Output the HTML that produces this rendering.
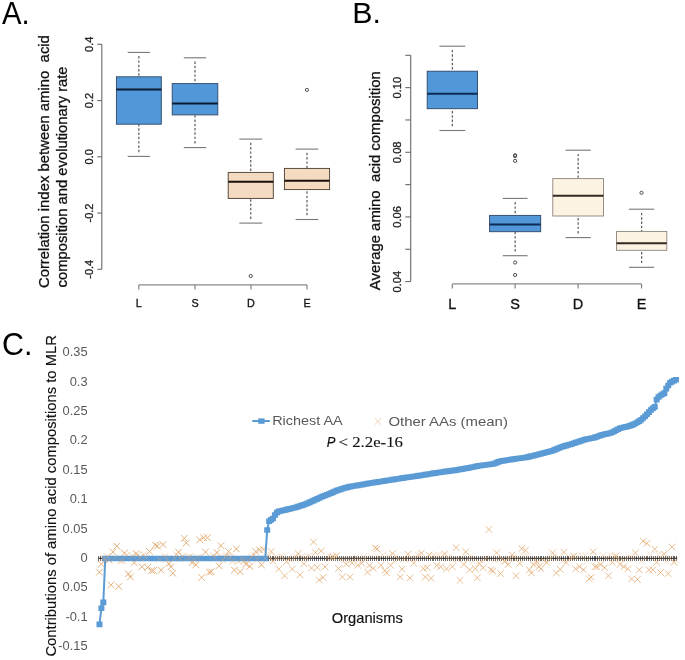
<!DOCTYPE html>
<html><head><meta charset="utf-8"><style>
html,body{margin:0;padding:0;background:#fff;}
svg{display:block;will-change:transform;}
text{font-family:"Liberation Sans",sans-serif;white-space:pre;}
</style></head><body>
<svg width="685" height="660" viewBox="0 0 685 660">
<rect width="685" height="660" fill="#fff"/>
<text x="2.10" y="23.60" text-anchor="start" font-size="31" fill="#000" stroke="#000" stroke-width="0" textLength="27.6" lengthAdjust="spacingAndGlyphs">A.</text>
<line x1="101.80" y1="44.30" x2="101.80" y2="269.30" stroke="#6a6a6a" stroke-width="1.1"/>
<line x1="97.30" y1="44.30" x2="101.80" y2="44.30" stroke="#6a6a6a" stroke-width="1.1"/>
<text transform="translate(93.10,44.30) rotate(-90)" text-anchor="middle" font-size="11" fill="#222" stroke="#222" stroke-width="0.3">0.4</text>
<line x1="97.30" y1="100.55" x2="101.80" y2="100.55" stroke="#6a6a6a" stroke-width="1.1"/>
<text transform="translate(93.10,100.55) rotate(-90)" text-anchor="middle" font-size="11" fill="#222" stroke="#222" stroke-width="0.3">0.2</text>
<line x1="97.30" y1="156.80" x2="101.80" y2="156.80" stroke="#6a6a6a" stroke-width="1.1"/>
<text transform="translate(93.10,156.80) rotate(-90)" text-anchor="middle" font-size="11" fill="#222" stroke="#222" stroke-width="0.3">0.0</text>
<line x1="97.30" y1="213.05" x2="101.80" y2="213.05" stroke="#6a6a6a" stroke-width="1.1"/>
<text transform="translate(93.10,213.05) rotate(-90)" text-anchor="middle" font-size="11" fill="#222" stroke="#222" stroke-width="0.3">-0.2</text>
<line x1="97.30" y1="269.30" x2="101.80" y2="269.30" stroke="#6a6a6a" stroke-width="1.1"/>
<text transform="translate(93.10,269.30) rotate(-90)" text-anchor="middle" font-size="11" fill="#222" stroke="#222" stroke-width="0.3">-0.4</text>
<text transform="translate(49.40,288.10) rotate(-90)" text-anchor="start" font-size="14.8" fill="#111" stroke="#111" stroke-width="0.3" textLength="253.0" lengthAdjust="spacingAndGlyphs">Correlation index between amino  acid</text>
<text transform="translate(67.20,287.40) rotate(-90)" text-anchor="start" font-size="14.8" fill="#111" stroke="#111" stroke-width="0.3" textLength="221.0" lengthAdjust="spacingAndGlyphs">composition and evolutionary rate</text>
<line x1="138.80" y1="284.90" x2="307.00" y2="284.90" stroke="#8a8a8a" stroke-width="1.2"/>
<line x1="138.80" y1="284.90" x2="138.80" y2="289.60" stroke="#777" stroke-width="1.1"/>
<text x="138.80" y="306.70" text-anchor="middle" font-size="10.8" fill="#111" stroke="#111" stroke-width="0.3">L</text>
<line x1="195.00" y1="284.90" x2="195.00" y2="289.60" stroke="#777" stroke-width="1.1"/>
<text x="195.00" y="306.70" text-anchor="middle" font-size="10.8" fill="#111" stroke="#111" stroke-width="0.3">S</text>
<line x1="251.00" y1="284.90" x2="251.00" y2="289.60" stroke="#777" stroke-width="1.1"/>
<text x="251.00" y="306.70" text-anchor="middle" font-size="10.8" fill="#111" stroke="#111" stroke-width="0.3">D</text>
<line x1="307.00" y1="284.90" x2="307.00" y2="289.60" stroke="#777" stroke-width="1.1"/>
<text x="307.00" y="306.70" text-anchor="middle" font-size="10.8" fill="#111" stroke="#111" stroke-width="0.3">E</text>
<line x1="138.85" y1="56.10" x2="138.85" y2="76.80" stroke="#5a5a5a" stroke-width="1.2" stroke-dasharray="2.45 1.85"/>
<line x1="138.85" y1="152.20" x2="138.85" y2="124.20" stroke="#5a5a5a" stroke-width="1.2" stroke-dasharray="2.45 1.85"/>
<line x1="127.65" y1="52.40" x2="150.05" y2="52.40" stroke="#777" stroke-width="1.1"/>
<line x1="127.65" y1="156.40" x2="150.05" y2="156.40" stroke="#777" stroke-width="1.1"/>
<rect x="116.40" y="76.80" width="44.90" height="47.40" fill="#5298d8" stroke="#2d4566" stroke-width="0.9"/>
<line x1="116.40" y1="89.40" x2="161.30" y2="89.40" stroke="#0d1a33" stroke-width="2.0"/>
<line x1="195.00" y1="61.50" x2="195.00" y2="83.60" stroke="#5a5a5a" stroke-width="1.2" stroke-dasharray="2.45 1.85"/>
<line x1="195.00" y1="143.40" x2="195.00" y2="114.90" stroke="#5a5a5a" stroke-width="1.2" stroke-dasharray="2.45 1.85"/>
<line x1="183.80" y1="57.80" x2="206.20" y2="57.80" stroke="#777" stroke-width="1.1"/>
<line x1="183.80" y1="147.60" x2="206.20" y2="147.60" stroke="#777" stroke-width="1.1"/>
<rect x="172.20" y="83.60" width="45.60" height="31.30" fill="#5298d8" stroke="#2d4566" stroke-width="0.9"/>
<line x1="172.20" y1="103.60" x2="217.80" y2="103.60" stroke="#0d1a33" stroke-width="2.0"/>
<line x1="250.75" y1="142.80" x2="250.75" y2="172.40" stroke="#5a5a5a" stroke-width="1.2" stroke-dasharray="2.45 1.85"/>
<line x1="250.75" y1="218.90" x2="250.75" y2="198.40" stroke="#5a5a5a" stroke-width="1.2" stroke-dasharray="2.45 1.85"/>
<line x1="239.35" y1="139.10" x2="262.15" y2="139.10" stroke="#777" stroke-width="1.1"/>
<line x1="239.35" y1="223.10" x2="262.15" y2="223.10" stroke="#777" stroke-width="1.1"/>
<rect x="228.20" y="172.40" width="45.10" height="26.00" fill="#f3dac0" stroke="#4a3b30" stroke-width="0.9"/>
<line x1="228.20" y1="181.80" x2="273.30" y2="181.80" stroke="#1a1008" stroke-width="2.0"/>
<line x1="307.00" y1="152.80" x2="307.00" y2="168.40" stroke="#5a5a5a" stroke-width="1.2" stroke-dasharray="2.45 1.85"/>
<line x1="307.00" y1="215.30" x2="307.00" y2="189.60" stroke="#5a5a5a" stroke-width="1.2" stroke-dasharray="2.45 1.85"/>
<line x1="295.60" y1="149.10" x2="318.40" y2="149.10" stroke="#777" stroke-width="1.1"/>
<line x1="295.60" y1="219.50" x2="318.40" y2="219.50" stroke="#777" stroke-width="1.1"/>
<rect x="284.40" y="168.40" width="45.20" height="21.20" fill="#f3dac0" stroke="#4a3b30" stroke-width="0.9"/>
<line x1="284.40" y1="180.70" x2="329.60" y2="180.70" stroke="#1a1008" stroke-width="2.0"/>
<circle cx="306.90" cy="89.90" r="1.6" fill="none" stroke="#444" stroke-width="0.95"/>
<circle cx="250.70" cy="276.00" r="1.6" fill="none" stroke="#444" stroke-width="0.95"/>
<text x="352.20" y="23.00" text-anchor="start" font-size="30.3" fill="#000" stroke="#000" stroke-width="0">B.</text>
<line x1="410.70" y1="55.30" x2="410.70" y2="281.60" stroke="#6a6a6a" stroke-width="1.1"/>
<line x1="405.30" y1="55.30" x2="410.70" y2="55.30" stroke="#6a6a6a" stroke-width="1.1"/>
<line x1="405.30" y1="87.63" x2="410.70" y2="87.63" stroke="#6a6a6a" stroke-width="1.1"/>
<line x1="405.30" y1="119.96" x2="410.70" y2="119.96" stroke="#6a6a6a" stroke-width="1.1"/>
<line x1="405.30" y1="152.29" x2="410.70" y2="152.29" stroke="#6a6a6a" stroke-width="1.1"/>
<line x1="405.30" y1="184.61" x2="410.70" y2="184.61" stroke="#6a6a6a" stroke-width="1.1"/>
<line x1="405.30" y1="216.94" x2="410.70" y2="216.94" stroke="#6a6a6a" stroke-width="1.1"/>
<line x1="405.30" y1="249.27" x2="410.70" y2="249.27" stroke="#6a6a6a" stroke-width="1.1"/>
<line x1="405.30" y1="281.60" x2="410.70" y2="281.60" stroke="#6a6a6a" stroke-width="1.1"/>
<text transform="translate(401.30,87.63) rotate(-90)" text-anchor="middle" font-size="11.2" fill="#222" stroke="#222" stroke-width="0.3">0.10</text>
<text transform="translate(401.30,152.29) rotate(-90)" text-anchor="middle" font-size="11.2" fill="#222" stroke="#222" stroke-width="0.3">0.08</text>
<text transform="translate(401.30,216.94) rotate(-90)" text-anchor="middle" font-size="11.2" fill="#222" stroke="#222" stroke-width="0.3">0.06</text>
<text transform="translate(401.30,281.60) rotate(-90)" text-anchor="middle" font-size="11.2" fill="#222" stroke="#222" stroke-width="0.3">0.04</text>
<text transform="translate(379.90,290.20) rotate(-90)" text-anchor="start" font-size="14.8" fill="#111" stroke="#111" stroke-width="0.3" textLength="219.0" lengthAdjust="spacingAndGlyphs">Average amino  acid composition</text>
<line x1="452.30" y1="283.90" x2="641.60" y2="283.90" stroke="#8a8a8a" stroke-width="1.2"/>
<line x1="452.30" y1="283.90" x2="452.30" y2="288.50" stroke="#777" stroke-width="1.1"/>
<text x="452.30" y="309.00" text-anchor="middle" font-size="14.5" fill="#111" stroke="#111" stroke-width="0.3">L</text>
<line x1="515.10" y1="283.90" x2="515.10" y2="288.50" stroke="#777" stroke-width="1.1"/>
<text x="515.10" y="309.00" text-anchor="middle" font-size="14.5" fill="#111" stroke="#111" stroke-width="0.3">S</text>
<line x1="578.10" y1="283.90" x2="578.10" y2="288.50" stroke="#777" stroke-width="1.1"/>
<text x="578.10" y="309.00" text-anchor="middle" font-size="14.5" fill="#111" stroke="#111" stroke-width="0.3">D</text>
<line x1="641.60" y1="283.90" x2="641.60" y2="288.50" stroke="#777" stroke-width="1.1"/>
<text x="641.60" y="309.00" text-anchor="middle" font-size="14.5" fill="#111" stroke="#111" stroke-width="0.3">E</text>
<line x1="452.35" y1="49.90" x2="452.35" y2="71.20" stroke="#5a5a5a" stroke-width="1.2" stroke-dasharray="2.45 1.85"/>
<line x1="452.35" y1="126.30" x2="452.35" y2="108.70" stroke="#5a5a5a" stroke-width="1.2" stroke-dasharray="2.45 1.85"/>
<line x1="439.45" y1="46.20" x2="465.25" y2="46.20" stroke="#777" stroke-width="1.1"/>
<line x1="439.45" y1="130.50" x2="465.25" y2="130.50" stroke="#777" stroke-width="1.1"/>
<rect x="427.20" y="71.20" width="50.30" height="37.50" fill="#5298d8" stroke="#2d4566" stroke-width="0.9"/>
<line x1="427.20" y1="93.70" x2="477.50" y2="93.70" stroke="#0d2a55" stroke-width="2.0"/>
<line x1="515.15" y1="202.10" x2="515.15" y2="215.40" stroke="#5a5a5a" stroke-width="1.2" stroke-dasharray="2.45 1.85"/>
<line x1="515.15" y1="251.50" x2="515.15" y2="231.70" stroke="#5a5a5a" stroke-width="1.2" stroke-dasharray="2.45 1.85"/>
<line x1="502.75" y1="198.40" x2="527.55" y2="198.40" stroke="#777" stroke-width="1.1"/>
<line x1="502.75" y1="255.70" x2="527.55" y2="255.70" stroke="#777" stroke-width="1.1"/>
<rect x="489.60" y="215.40" width="51.10" height="16.30" fill="#5298d8" stroke="#2d4566" stroke-width="0.9"/>
<line x1="489.60" y1="224.50" x2="540.70" y2="224.50" stroke="#0d2a55" stroke-width="2.0"/>
<line x1="578.15" y1="153.90" x2="578.15" y2="178.60" stroke="#5a5a5a" stroke-width="1.2" stroke-dasharray="2.45 1.85"/>
<line x1="578.15" y1="233.40" x2="578.15" y2="216.00" stroke="#5a5a5a" stroke-width="1.2" stroke-dasharray="2.45 1.85"/>
<line x1="565.55" y1="150.20" x2="590.75" y2="150.20" stroke="#777" stroke-width="1.1"/>
<line x1="565.55" y1="237.60" x2="590.75" y2="237.60" stroke="#777" stroke-width="1.1"/>
<rect x="552.80" y="178.60" width="50.70" height="37.40" fill="#fdf3e2" stroke="#8a847c" stroke-width="0.9"/>
<line x1="552.80" y1="195.80" x2="603.50" y2="195.80" stroke="#352a22" stroke-width="2.0"/>
<line x1="641.65" y1="212.90" x2="641.65" y2="231.40" stroke="#5a5a5a" stroke-width="1.2" stroke-dasharray="2.45 1.85"/>
<line x1="641.65" y1="263.10" x2="641.65" y2="250.30" stroke="#5a5a5a" stroke-width="1.2" stroke-dasharray="2.45 1.85"/>
<line x1="629.05" y1="209.20" x2="654.25" y2="209.20" stroke="#777" stroke-width="1.1"/>
<line x1="629.05" y1="267.30" x2="654.25" y2="267.30" stroke="#777" stroke-width="1.1"/>
<rect x="616.50" y="231.40" width="50.30" height="18.90" fill="#fdf3e2" stroke="#8a847c" stroke-width="0.9"/>
<line x1="616.50" y1="243.30" x2="666.80" y2="243.30" stroke="#352a22" stroke-width="2.0"/>
<circle cx="515.10" cy="155.30" r="1.6" fill="none" stroke="#444" stroke-width="0.95"/>
<circle cx="515.10" cy="156.10" r="1.6" fill="none" stroke="#444" stroke-width="0.95"/>
<circle cx="515.10" cy="160.90" r="1.6" fill="none" stroke="#444" stroke-width="0.95"/>
<circle cx="515.10" cy="262.50" r="1.6" fill="none" stroke="#444" stroke-width="0.95"/>
<circle cx="515.10" cy="275.00" r="1.6" fill="none" stroke="#444" stroke-width="0.95"/>
<circle cx="641.50" cy="192.80" r="1.6" fill="none" stroke="#444" stroke-width="0.95"/>
<text x="1.90" y="355.40" text-anchor="start" font-size="30.5" fill="#000" stroke="#000" stroke-width="0">C.</text>
<text transform="translate(55.80,656.60) rotate(-90)" text-anchor="start" font-size="14.5" fill="#111" stroke="#111" stroke-width="0.15" textLength="321.5" lengthAdjust="spacingAndGlyphs">Contributions of amino acid compositions to MLR</text>
<text x="87.60" y="356.38" text-anchor="end" font-size="12" fill="#595959" stroke="#595959" stroke-width="0" textLength="25.0" lengthAdjust="spacingAndGlyphs">0.35</text>
<text x="87.60" y="385.74" text-anchor="end" font-size="12" fill="#595959" stroke="#595959" stroke-width="0" textLength="17.9" lengthAdjust="spacingAndGlyphs">0.3</text>
<text x="87.60" y="415.10" text-anchor="end" font-size="12" fill="#595959" stroke="#595959" stroke-width="0" textLength="25.0" lengthAdjust="spacingAndGlyphs">0.25</text>
<text x="87.60" y="444.46" text-anchor="end" font-size="12" fill="#595959" stroke="#595959" stroke-width="0" textLength="17.9" lengthAdjust="spacingAndGlyphs">0.2</text>
<text x="87.60" y="473.82" text-anchor="end" font-size="12" fill="#595959" stroke="#595959" stroke-width="0" textLength="25.0" lengthAdjust="spacingAndGlyphs">0.15</text>
<text x="87.60" y="503.18" text-anchor="end" font-size="12" fill="#595959" stroke="#595959" stroke-width="0" textLength="17.9" lengthAdjust="spacingAndGlyphs">0.1</text>
<text x="87.60" y="532.54" text-anchor="end" font-size="12" fill="#595959" stroke="#595959" stroke-width="0" textLength="25.0" lengthAdjust="spacingAndGlyphs">0.05</text>
<text x="87.60" y="561.90" text-anchor="end" font-size="12" fill="#595959" stroke="#595959" stroke-width="0" textLength="7.2" lengthAdjust="spacingAndGlyphs">0</text>
<text x="87.60" y="591.26" text-anchor="end" font-size="12" fill="#595959" stroke="#595959" stroke-width="0" textLength="25.0" lengthAdjust="spacingAndGlyphs">0.05</text>
<text x="87.60" y="620.62" text-anchor="end" font-size="12" fill="#595959" stroke="#595959" stroke-width="0" textLength="22.2" lengthAdjust="spacingAndGlyphs">-0.1</text>
<text x="87.60" y="649.98" text-anchor="end" font-size="12" fill="#595959" stroke="#595959" stroke-width="0" textLength="29.3" lengthAdjust="spacingAndGlyphs">-0.15</text>
<path d="M98.50 555.8V560.8 M100.43 555.8V560.8 M102.36 555.8V560.8 M104.28 555.8V560.8 M106.21 555.8V560.8 M108.14 555.8V560.8 M110.07 555.8V560.8 M112.00 555.8V560.8 M113.92 555.8V560.8 M115.85 555.8V560.8 M117.78 555.8V560.8 M119.71 555.8V560.8 M121.64 555.8V560.8 M123.56 555.8V560.8 M125.49 555.8V560.8 M127.42 555.8V560.8 M129.35 555.8V560.8 M131.28 555.8V560.8 M133.20 555.8V560.8 M135.13 555.8V560.8 M137.06 555.8V560.8 M138.99 555.8V560.8 M140.92 555.8V560.8 M142.84 555.8V560.8 M144.77 555.8V560.8 M146.70 555.8V560.8 M148.63 555.8V560.8 M150.56 555.8V560.8 M152.48 555.8V560.8 M154.41 555.8V560.8 M156.34 555.8V560.8 M158.27 555.8V560.8 M160.20 555.8V560.8 M162.12 555.8V560.8 M164.05 555.8V560.8 M165.98 555.8V560.8 M167.91 555.8V560.8 M169.84 555.8V560.8 M171.76 555.8V560.8 M173.69 555.8V560.8 M175.62 555.8V560.8 M177.55 555.8V560.8 M179.48 555.8V560.8 M181.40 555.8V560.8 M183.33 555.8V560.8 M185.26 555.8V560.8 M187.19 555.8V560.8 M189.12 555.8V560.8 M191.04 555.8V560.8 M192.97 555.8V560.8 M194.90 555.8V560.8 M196.83 555.8V560.8 M198.76 555.8V560.8 M200.68 555.8V560.8 M202.61 555.8V560.8 M204.54 555.8V560.8 M206.47 555.8V560.8 M208.40 555.8V560.8 M210.32 555.8V560.8 M212.25 555.8V560.8 M214.18 555.8V560.8 M216.11 555.8V560.8 M218.04 555.8V560.8 M219.96 555.8V560.8 M221.89 555.8V560.8 M223.82 555.8V560.8 M225.75 555.8V560.8 M227.68 555.8V560.8 M229.60 555.8V560.8 M231.53 555.8V560.8 M233.46 555.8V560.8 M235.39 555.8V560.8 M237.32 555.8V560.8 M239.24 555.8V560.8 M241.17 555.8V560.8 M243.10 555.8V560.8 M245.03 555.8V560.8 M246.96 555.8V560.8 M248.88 555.8V560.8 M250.81 555.8V560.8 M252.74 555.8V560.8 M254.67 555.8V560.8 M256.60 555.8V560.8 M258.52 555.8V560.8 M260.45 555.8V560.8 M262.38 555.8V560.8 M264.31 555.8V560.8 M266.24 555.8V560.8 M268.16 555.8V560.8 M270.09 555.8V560.8 M272.02 555.8V560.8 M273.95 555.8V560.8 M275.88 555.8V560.8 M277.80 555.8V560.8 M279.73 555.8V560.8 M281.66 555.8V560.8 M283.59 555.8V560.8 M285.52 555.8V560.8 M287.44 555.8V560.8 M289.37 555.8V560.8 M291.30 555.8V560.8 M293.23 555.8V560.8 M295.16 555.8V560.8 M297.08 555.8V560.8 M299.01 555.8V560.8 M300.94 555.8V560.8 M302.87 555.8V560.8 M304.80 555.8V560.8 M306.72 555.8V560.8 M308.65 555.8V560.8 M310.58 555.8V560.8 M312.51 555.8V560.8 M314.44 555.8V560.8 M316.36 555.8V560.8 M318.29 555.8V560.8 M320.22 555.8V560.8 M322.15 555.8V560.8 M324.08 555.8V560.8 M326.00 555.8V560.8 M327.93 555.8V560.8 M329.86 555.8V560.8 M331.79 555.8V560.8 M333.72 555.8V560.8 M335.64 555.8V560.8 M337.57 555.8V560.8 M339.50 555.8V560.8 M341.43 555.8V560.8 M343.36 555.8V560.8 M345.28 555.8V560.8 M347.21 555.8V560.8 M349.14 555.8V560.8 M351.07 555.8V560.8 M353.00 555.8V560.8 M354.92 555.8V560.8 M356.85 555.8V560.8 M358.78 555.8V560.8 M360.71 555.8V560.8 M362.64 555.8V560.8 M364.56 555.8V560.8 M366.49 555.8V560.8 M368.42 555.8V560.8 M370.35 555.8V560.8 M372.28 555.8V560.8 M374.20 555.8V560.8 M376.13 555.8V560.8 M378.06 555.8V560.8 M379.99 555.8V560.8 M381.92 555.8V560.8 M383.84 555.8V560.8 M385.77 555.8V560.8 M387.70 555.8V560.8 M389.63 555.8V560.8 M391.56 555.8V560.8 M393.48 555.8V560.8 M395.41 555.8V560.8 M397.34 555.8V560.8 M399.27 555.8V560.8 M401.20 555.8V560.8 M403.12 555.8V560.8 M405.05 555.8V560.8 M406.98 555.8V560.8 M408.91 555.8V560.8 M410.84 555.8V560.8 M412.76 555.8V560.8 M414.69 555.8V560.8 M416.62 555.8V560.8 M418.55 555.8V560.8 M420.48 555.8V560.8 M422.40 555.8V560.8 M424.33 555.8V560.8 M426.26 555.8V560.8 M428.19 555.8V560.8 M430.12 555.8V560.8 M432.04 555.8V560.8 M433.97 555.8V560.8 M435.90 555.8V560.8 M437.83 555.8V560.8 M439.76 555.8V560.8 M441.68 555.8V560.8 M443.61 555.8V560.8 M445.54 555.8V560.8 M447.47 555.8V560.8 M449.40 555.8V560.8 M451.32 555.8V560.8 M453.25 555.8V560.8 M455.18 555.8V560.8 M457.11 555.8V560.8 M459.04 555.8V560.8 M460.96 555.8V560.8 M462.89 555.8V560.8 M464.82 555.8V560.8 M466.75 555.8V560.8 M468.68 555.8V560.8 M470.60 555.8V560.8 M472.53 555.8V560.8 M474.46 555.8V560.8 M476.39 555.8V560.8 M478.32 555.8V560.8 M480.24 555.8V560.8 M482.17 555.8V560.8 M484.10 555.8V560.8 M486.03 555.8V560.8 M487.96 555.8V560.8 M489.88 555.8V560.8 M491.81 555.8V560.8 M493.74 555.8V560.8 M495.67 555.8V560.8 M497.60 555.8V560.8 M499.52 555.8V560.8 M501.45 555.8V560.8 M503.38 555.8V560.8 M505.31 555.8V560.8 M507.24 555.8V560.8 M509.16 555.8V560.8 M511.09 555.8V560.8 M513.02 555.8V560.8 M514.95 555.8V560.8 M516.88 555.8V560.8 M518.80 555.8V560.8 M520.73 555.8V560.8 M522.66 555.8V560.8 M524.59 555.8V560.8 M526.52 555.8V560.8 M528.44 555.8V560.8 M530.37 555.8V560.8 M532.30 555.8V560.8 M534.23 555.8V560.8 M536.16 555.8V560.8 M538.08 555.8V560.8 M540.01 555.8V560.8 M541.94 555.8V560.8 M543.87 555.8V560.8 M545.80 555.8V560.8 M547.72 555.8V560.8 M549.65 555.8V560.8 M551.58 555.8V560.8 M553.51 555.8V560.8 M555.44 555.8V560.8 M557.36 555.8V560.8 M559.29 555.8V560.8 M561.22 555.8V560.8 M563.15 555.8V560.8 M565.08 555.8V560.8 M567.00 555.8V560.8 M568.93 555.8V560.8 M570.86 555.8V560.8 M572.79 555.8V560.8 M574.72 555.8V560.8 M576.64 555.8V560.8 M578.57 555.8V560.8 M580.50 555.8V560.8 M582.43 555.8V560.8 M584.36 555.8V560.8 M586.28 555.8V560.8 M588.21 555.8V560.8 M590.14 555.8V560.8 M592.07 555.8V560.8 M594.00 555.8V560.8 M595.92 555.8V560.8 M597.85 555.8V560.8 M599.78 555.8V560.8 M601.71 555.8V560.8 M603.64 555.8V560.8 M605.56 555.8V560.8 M607.49 555.8V560.8 M609.42 555.8V560.8 M611.35 555.8V560.8 M613.28 555.8V560.8 M615.20 555.8V560.8 M617.13 555.8V560.8 M619.06 555.8V560.8 M620.99 555.8V560.8 M622.92 555.8V560.8 M624.84 555.8V560.8 M626.77 555.8V560.8 M628.70 555.8V560.8 M630.63 555.8V560.8 M632.56 555.8V560.8 M634.48 555.8V560.8 M636.41 555.8V560.8 M638.34 555.8V560.8 M640.27 555.8V560.8 M642.20 555.8V560.8 M644.12 555.8V560.8 M646.05 555.8V560.8 M647.98 555.8V560.8 M649.91 555.8V560.8 M651.84 555.8V560.8 M653.76 555.8V560.8 M655.69 555.8V560.8 M657.62 555.8V560.8 M659.55 555.8V560.8 M661.48 555.8V560.8 M663.40 555.8V560.8 M665.33 555.8V560.8 M667.26 555.8V560.8 M669.19 555.8V560.8 M671.12 555.8V560.8 M673.04 555.8V560.8 M674.97 555.8V560.8 M676.90 555.8V560.8" stroke="#6a6a6a" stroke-width="1" fill="none" shape-rendering="crispEdges"/>
<line x1="98.50" y1="558.30" x2="676.90" y2="558.30" stroke="#1a1a1a" stroke-width="1.0"/>
<path d="M100.02 555.06L106.62 561.66M106.62 555.06L100.02 561.66M101.95 556.16L108.55 562.76M108.55 556.16L101.95 562.76M103.88 553.24L110.48 559.84M110.48 553.24L103.88 559.84M111.59 554.78L118.19 561.38M118.19 554.78L111.59 561.38M117.37 557.45L123.97 564.05M123.97 557.45L117.37 564.05M119.30 557.47L125.90 564.07M125.90 557.47L119.30 564.07M123.16 552.08L129.76 558.68M129.76 552.08L123.16 558.68M128.94 552.65L135.54 559.25M135.54 552.65L128.94 559.25M134.72 551.56L141.32 558.16M141.32 551.56L134.72 558.16M136.65 554.29L143.25 560.89M143.25 554.29L136.65 560.89M140.51 551.41L147.11 558.01M147.11 551.41L140.51 558.01M142.44 554.40L149.04 561.00M149.04 554.40L142.44 561.00M155.93 555.74L162.53 562.34M162.53 555.74L155.93 562.34M161.72 553.15L168.32 559.75M168.32 553.15L161.72 559.75M163.64 555.93L170.24 562.53M170.24 555.93L163.64 562.53M171.36 555.34L177.96 561.94M177.96 555.34L171.36 561.94M173.28 551.37L179.88 557.97M179.88 551.37L173.28 557.97M177.14 555.11L183.74 561.71M183.74 555.11L177.14 561.71M179.07 553.01L185.67 559.61M185.67 553.01L179.07 559.61M184.85 554.11L191.45 560.71M191.45 554.11L184.85 560.71M186.78 553.18L193.38 559.78M193.38 553.18L186.78 559.78M190.64 556.05L197.24 562.65M197.24 556.05L190.64 562.65M194.49 554.28L201.09 560.88M201.09 554.28L194.49 560.88M209.92 552.30L216.52 558.90M216.52 552.30L209.92 558.90M211.84 555.01L218.44 561.61M218.44 555.01L211.84 561.61M219.56 556.66L226.16 563.26M226.16 556.66L219.56 563.26M221.48 553.34L228.08 559.94M228.08 553.34L221.48 559.94M223.41 552.75L230.01 559.35M230.01 552.75L223.41 559.35M227.27 553.92L233.87 560.52M233.87 553.92L227.27 560.52M229.20 557.75L235.80 564.35M235.80 557.75L229.20 564.35M234.98 558.03L241.58 564.63M241.58 558.03L234.98 564.63M238.84 555.91L245.44 562.51M245.44 555.91L238.84 562.51M240.76 557.52L247.36 564.12M247.36 557.52L240.76 564.12M244.62 557.12L251.22 563.72M251.22 557.12L244.62 563.72M248.48 553.85L255.08 560.45M255.08 553.85L248.48 560.45M250.40 551.85L257.00 558.45M257.00 551.85L250.40 558.45M254.26 555.77L260.86 562.37M260.86 555.77L254.26 562.37M261.97 555.10L268.57 561.70M268.57 555.10L261.97 561.70M263.90 553.73L270.50 560.33M270.50 553.73L263.90 560.33M265.83 552.78L272.43 559.38M272.43 552.78L265.83 559.38M271.61 554.05L278.21 560.65M278.21 554.05L271.61 560.65M273.54 554.48L280.14 561.08M280.14 554.48L273.54 561.08M277.40 553.08L284.00 559.68M284.00 553.08L277.40 559.68M279.32 553.24L285.92 559.84M285.92 553.24L279.32 559.84M285.11 554.40L291.71 561.00M291.71 554.40L285.11 561.00M287.04 557.22L293.64 563.82M293.64 557.22L287.04 563.82M290.89 555.30L297.49 561.90M297.49 555.30L290.89 561.90M292.82 553.18L299.42 559.78M299.42 553.18L292.82 559.78M298.60 553.15L305.20 559.75M305.20 553.15L298.60 559.75M302.46 554.38L309.06 560.98M309.06 554.38L302.46 560.98M304.39 552.64L310.99 559.24M310.99 552.64L304.39 559.24M306.32 552.61L312.92 559.21M312.92 552.61L306.32 559.21M323.67 554.80L330.27 561.40M330.27 554.80L323.67 561.40M325.60 551.81L332.20 558.41M332.20 551.81L325.60 558.41M327.52 554.59L334.12 561.19M334.12 554.59L327.52 561.19M331.38 553.74L337.98 560.34M337.98 553.74L331.38 560.34M337.16 556.15L343.76 562.75M343.76 556.15L337.16 562.75M341.02 556.43L347.62 563.03M347.62 556.43L341.02 563.03M344.88 556.04L351.48 562.64M351.48 556.04L344.88 562.64M350.66 556.02L357.26 562.62M357.26 556.02L350.66 562.62M352.59 553.82L359.19 560.42M359.19 553.82L352.59 560.42M356.44 555.88L363.04 562.48M363.04 555.88L356.44 562.48M360.30 553.58L366.90 560.18M366.90 553.58L360.30 560.18M362.23 555.21L368.83 561.81M368.83 555.21L362.23 561.81M368.01 553.48L374.61 560.08M374.61 553.48L368.01 560.08M375.72 554.32L382.32 560.92M382.32 554.32L375.72 560.92M379.58 551.63L386.18 558.23M386.18 551.63L379.58 558.23M385.36 552.90L391.96 559.50M391.96 552.90L385.36 559.50M391.15 558.00L397.75 564.60M397.75 558.00L391.15 564.60M393.08 552.81L399.68 559.41M399.68 552.81L393.08 559.41M395.00 556.04L401.60 562.64M401.60 556.04L395.00 562.64M400.79 555.75L407.39 562.35M407.39 555.75L400.79 562.35M402.72 556.27L409.32 562.87M409.32 556.27L402.72 562.87M408.50 554.53L415.10 561.13M415.10 554.53L408.50 561.13M412.36 555.38L418.96 561.98M418.96 555.38L412.36 561.98M414.28 551.67L420.88 558.27M420.88 551.67L414.28 558.27M416.21 551.71L422.81 558.31M422.81 551.71L416.21 558.31M429.71 552.59L436.31 559.19M436.31 552.59L429.71 559.19M431.64 552.26L438.24 558.86M438.24 552.26L431.64 558.86M435.49 551.90L442.09 558.50M442.09 551.90L435.49 558.50M439.35 552.11L445.95 558.71M445.95 552.11L439.35 558.71M445.13 555.07L451.73 561.67M451.73 555.07L445.13 561.67M447.06 552.51L453.66 559.11M453.66 552.51L447.06 559.11M450.92 557.86L457.52 564.46M457.52 557.86L450.92 564.46M454.77 555.97L461.37 562.57M461.37 555.97L454.77 562.57M458.63 554.99L465.23 561.59M465.23 554.99L458.63 561.59M464.41 556.15L471.01 562.75M471.01 556.15L464.41 562.75M468.27 553.05L474.87 559.65M474.87 553.05L468.27 559.65M470.20 557.69L476.80 564.29M476.80 557.69L470.20 564.29M477.91 557.07L484.51 563.67M484.51 557.07L477.91 563.67M481.76 556.28L488.36 562.88M488.36 556.28L481.76 562.88M483.69 554.56L490.29 561.16M490.29 554.56L483.69 561.16M491.40 557.09L498.00 563.69M498.00 557.09L491.40 563.69M495.26 556.41L501.86 563.01M501.86 556.41L495.26 563.01M499.12 555.82L505.72 562.42M505.72 555.82L499.12 562.42M502.97 557.60L509.57 564.20M509.57 557.60L502.97 564.20M506.83 555.64L513.43 562.24M513.43 555.64L506.83 562.24M510.68 553.76L517.28 560.36M517.28 553.76L510.68 560.36M514.54 555.07L521.14 561.67M521.14 555.07L514.54 561.67M520.32 552.57L526.92 559.17M526.92 552.57L520.32 559.17M524.18 552.54L530.78 559.14M530.78 552.54L524.18 559.14M531.89 556.28L538.49 562.88M538.49 556.28L531.89 562.88M539.60 556.69L546.20 563.29M546.20 556.69L539.60 563.29M541.53 558.00L548.13 564.60M548.13 558.00L541.53 564.60M545.39 557.16L551.99 563.76M551.99 557.16L545.39 563.76M547.32 555.01L553.92 561.61M553.92 555.01L547.32 561.61M551.17 551.83L557.77 558.43M557.77 551.83L551.17 558.43M555.03 554.62L561.63 561.22M561.63 554.62L555.03 561.22M558.88 557.70L565.48 564.30M565.48 557.70L558.88 564.30M564.67 556.71L571.27 563.31M571.27 556.71L564.67 563.31M566.60 554.60L573.20 561.20M573.20 554.60L566.60 561.20M568.52 554.39L575.12 560.99M575.12 554.39L568.52 560.99M574.31 552.73L580.91 559.33M580.91 552.73L574.31 559.33M578.16 552.44L584.76 559.04M584.76 552.44L578.16 559.04M582.02 551.72L588.62 558.32M588.62 551.72L582.02 558.32M583.95 557.45L590.55 564.05M590.55 557.45L583.95 564.05M595.52 555.68L602.12 562.28M602.12 555.68L595.52 562.28M599.37 552.20L605.97 558.80M605.97 552.20L599.37 558.80M603.23 554.10L609.83 560.70M609.83 554.10L603.23 560.70M607.08 551.54L613.68 558.14M613.68 551.54L607.08 558.14M610.94 552.67L617.54 559.27M617.54 552.67L610.94 559.27M614.80 556.31L621.40 562.91M621.40 556.31L614.80 562.91M618.65 555.76L625.25 562.36M625.25 555.76L618.65 562.36M622.51 554.55L629.11 561.15M629.11 554.55L622.51 561.15M626.36 553.12L632.96 559.72M632.96 553.12L626.36 559.72M630.22 555.77L636.82 562.37M636.82 555.77L630.22 562.37M637.93 557.90L644.53 564.50M644.53 557.90L637.93 564.50M641.79 554.25L648.39 560.85M648.39 554.25L641.79 560.85M647.57 551.69L654.17 558.29M654.17 551.69L647.57 558.29M655.28 551.60L661.88 558.20M661.88 551.60L655.28 558.20M659.14 551.78L665.74 558.38M665.74 551.78L659.14 558.38M663.00 557.92L669.60 564.52M669.60 557.92L663.00 564.52M666.85 554.99L673.45 561.59M673.45 554.99L666.85 561.59M672.64 557.06L679.24 563.66M679.24 557.06L672.64 563.66" stroke="#e2a970" stroke-width="0.9" fill="none" opacity="0.35"/>
<path d="M96.16 568.90L102.76 575.50M102.76 568.90L96.16 575.50M98.09 560.90L104.69 567.50M104.69 560.90L98.09 567.50M105.80 556.70L112.40 563.30M112.40 556.70L105.80 563.30M107.73 581.60L114.33 588.20M114.33 581.60L107.73 588.20M109.66 548.70L116.26 555.30M116.26 548.70L109.66 555.30M113.52 542.90L120.12 549.50M120.12 542.90L113.52 549.50M115.44 583.20L122.04 589.80M122.04 583.20L115.44 589.80M121.23 549.80L127.83 556.40M127.83 549.80L121.23 556.40M125.08 570.50L131.68 577.10M131.68 570.50L125.08 577.10M127.01 573.70L133.61 580.30M133.61 573.70L127.01 580.30M130.87 559.30L137.47 565.90M137.47 559.30L130.87 565.90M132.80 550.30L139.40 556.90M139.40 550.30L132.80 556.90M138.58 563.60L145.18 570.20M145.18 563.60L138.58 570.20M144.36 564.10L150.96 570.70M150.96 564.10L144.36 570.70M146.29 548.20L152.89 554.80M152.89 548.20L146.29 554.80M148.22 567.30L154.82 573.90M154.82 567.30L148.22 573.90M150.15 567.30L156.75 573.90M156.75 567.30L150.15 573.90M152.08 541.80L158.68 548.40M158.68 541.80L152.08 548.40M154.00 542.90L160.60 549.50M160.60 542.90L154.00 549.50M157.86 566.80L164.46 573.40M164.46 566.80L157.86 573.40M159.79 541.30L166.39 547.90M166.39 541.30L159.79 547.90M165.57 560.40L172.17 567.00M172.17 560.40L165.57 567.00M167.50 563.60L174.10 570.20M174.10 563.60L167.50 570.20M169.43 569.90L176.03 576.50M176.03 569.90L169.43 576.50M175.21 548.70L181.81 555.30M181.81 548.70L175.21 555.30M181.00 535.00L187.60 541.60M187.60 535.00L181.00 541.60M182.92 539.70L189.52 546.30M189.52 539.70L182.92 546.30M188.71 559.30L195.31 565.90M195.31 559.30L188.71 565.90M192.56 561.50L199.16 568.10M199.16 561.50L192.56 568.10M196.42 536.50L203.02 543.10M203.02 536.50L196.42 543.10M198.35 574.20L204.95 580.80M204.95 574.20L198.35 580.80M200.28 534.40L206.88 541.00M206.88 534.40L200.28 541.00M202.20 548.70L208.80 555.30M208.80 548.70L202.20 555.30M204.13 534.40L210.73 541.00M210.73 534.40L204.13 541.00M206.06 568.90L212.66 575.50M212.66 568.90L206.06 575.50M207.99 568.40L214.59 575.00M214.59 568.40L207.99 575.00M213.77 549.30L220.37 555.90M220.37 549.30L213.77 555.90M215.70 562.50L222.30 569.10M222.30 562.50L215.70 569.10M217.63 542.40L224.23 549.00M224.23 542.40L217.63 549.00M225.34 548.20L231.94 554.80M231.94 548.20L225.34 554.80M231.12 566.80L237.72 573.40M237.72 566.80L231.12 573.40M233.05 545.60L239.65 552.20M239.65 545.60L233.05 552.20M236.91 568.40L243.51 575.00M243.51 568.40L236.91 575.00M242.69 560.90L249.29 567.50M249.29 560.90L242.69 567.50M246.55 563.10L253.15 569.70M253.15 563.10L246.55 569.70M252.33 548.20L258.93 554.80M258.93 548.20L252.33 554.80M256.19 546.60L262.79 553.20M262.79 546.60L256.19 553.20M258.12 561.50L264.72 568.10M264.72 561.50L258.12 568.10M260.04 546.10L266.64 552.70M266.64 546.10L260.04 552.70M267.76 548.20L274.36 554.80M274.36 548.20L267.76 554.80M269.68 557.80L276.28 564.40M276.28 557.80L269.68 564.40M275.47 565.70L282.07 572.30M282.07 565.70L275.47 572.30M281.25 572.60L287.85 579.20M287.85 572.60L281.25 579.20M283.18 558.30L289.78 564.90M289.78 558.30L283.18 564.90M288.96 565.70L295.56 572.30M295.56 565.70L288.96 572.30M294.75 550.30L301.35 556.90M301.35 550.30L294.75 556.90M296.68 571.50L303.28 578.10M303.28 571.50L296.68 578.10M300.53 560.40L307.13 567.00M307.13 560.40L300.53 567.00M308.24 564.70L314.84 571.30M314.84 564.70L308.24 571.30M310.17 538.70L316.77 545.30M316.77 538.70L310.17 545.30M312.10 549.30L318.70 555.90M318.70 549.30L312.10 555.90M314.03 564.10L320.63 570.70M320.63 564.10L314.03 570.70M315.96 576.70L322.56 583.30M322.56 576.70L315.96 583.30M317.88 547.70L324.48 554.30M324.48 547.70L317.88 554.30M319.81 574.20L326.41 580.80M326.41 574.20L319.81 580.80M321.74 563.60L328.34 570.20M328.34 563.60L321.74 570.20M329.45 553.50L336.05 560.10M336.05 553.50L329.45 560.10M333.31 552.50L339.91 559.10M339.91 552.50L333.31 559.10M335.24 565.20L341.84 571.80M341.84 565.20L335.24 571.80M339.09 573.70L345.69 580.30M345.69 573.70L339.09 580.30M342.95 560.90L349.55 567.50M349.55 560.90L342.95 567.50M346.80 573.70L353.40 580.30M353.40 573.70L346.80 580.30M348.73 559.90L355.33 566.50M355.33 559.90L348.73 566.50M354.52 562.00L361.12 568.60M361.12 562.00L354.52 568.60M358.37 559.90L364.97 566.50M364.97 559.90L358.37 566.50M364.16 568.90L370.76 575.50M370.76 568.90L364.16 575.50M366.08 562.00L372.68 568.60M372.68 562.00L366.08 568.60M369.94 565.20L376.54 571.80M376.54 565.20L369.94 571.80M371.87 544.50L378.47 551.10M378.47 544.50L371.87 551.10M373.80 545.60L380.40 552.20M380.40 545.60L373.80 552.20M377.65 562.00L384.25 568.60M384.25 562.00L377.65 568.60M381.51 567.30L388.11 573.90M388.11 567.30L381.51 573.90M383.44 569.40L390.04 576.00M390.04 569.40L383.44 576.00M387.29 562.00L393.89 568.60M393.89 562.00L387.29 568.60M389.22 550.30L395.82 556.90M395.82 550.30L389.22 556.90M396.93 573.70L403.53 580.30M403.53 573.70L396.93 580.30M398.86 565.70L405.46 572.30M405.46 565.70L398.86 572.30M404.64 550.90L411.24 557.50M411.24 550.90L404.64 557.50M406.57 574.70L413.17 581.30M413.17 574.70L406.57 581.30M410.43 559.90L417.03 566.50M417.03 559.90L410.43 566.50M418.14 549.80L424.74 556.40M424.74 549.80L418.14 556.40M420.07 565.20L426.67 571.80M426.67 565.20L420.07 571.80M422.00 573.70L428.60 580.30M428.60 573.70L422.00 580.30M423.92 564.40L430.52 571.00M430.52 564.40L423.92 571.00M425.85 551.70L432.45 558.30M432.45 551.70L425.85 558.30M427.78 575.00L434.38 581.60M434.38 575.00L427.78 581.60M433.56 562.30L440.16 568.90M440.16 562.30L433.56 568.90M437.42 563.40L444.02 570.00M444.02 563.40L437.42 570.00M441.28 550.60L447.88 557.20M447.88 550.60L441.28 557.20M443.20 565.50L449.80 572.10M449.80 565.50L443.20 572.10M448.99 563.40L455.59 570.00M455.59 563.40L448.99 570.00M452.84 544.30L459.44 550.90M459.44 544.30L452.84 550.90M456.70 577.10L463.30 583.70M463.30 577.10L456.70 583.70M460.56 561.20L467.16 567.80M467.16 561.20L460.56 567.80M462.48 548.50L469.08 555.10M469.08 548.50L462.48 555.10M466.34 566.50L472.94 573.10M472.94 566.50L466.34 573.10M472.12 565.50L478.72 572.10M478.72 565.50L472.12 572.10M474.05 574.50L480.65 581.10M480.65 574.50L474.05 581.10M475.98 560.20L482.58 566.80M482.58 560.20L475.98 566.80M479.84 564.40L486.44 571.00M486.44 564.40L479.84 571.00M485.62 526.20L492.22 532.80M492.22 526.20L485.62 532.80M487.55 566.50L494.15 573.10M494.15 566.50L487.55 573.10M489.48 567.60L496.08 574.20M496.08 567.60L489.48 574.20M493.33 549.60L499.93 556.20M499.93 549.60L493.33 556.20M497.19 570.30L503.79 576.90M503.79 570.30L497.19 576.90M501.04 558.10L507.64 564.70M507.64 558.10L501.04 564.70M504.90 561.20L511.50 567.80M511.50 561.20L504.90 567.80M508.76 551.70L515.36 558.30M515.36 551.70L508.76 558.30M512.61 572.40L519.21 579.00M519.21 572.40L512.61 579.00M516.47 560.20L523.07 566.80M523.07 560.20L516.47 566.80M518.40 545.30L525.00 551.90M525.00 545.30L518.40 551.90M522.25 546.90L528.85 553.50M528.85 546.90L522.25 553.50M526.11 566.50L532.71 573.10M532.71 566.50L526.11 573.10M528.04 569.70L534.64 576.30M534.64 569.70L528.04 576.30M529.96 561.20L536.56 567.80M536.56 561.20L529.96 567.80M533.82 559.10L540.42 565.70M540.42 559.10L533.82 565.70M535.75 563.40L542.35 570.00M542.35 563.40L535.75 570.00M537.68 565.50L544.28 572.10M544.28 565.50L537.68 572.10M543.46 559.10L550.06 565.70M550.06 559.10L543.46 565.70M549.24 549.60L555.84 556.20M555.84 549.60L549.24 556.20M553.10 569.70L559.70 576.30M559.70 569.70L553.10 576.30M556.96 566.00L563.56 572.60M563.56 566.00L556.96 572.60M560.81 549.00L567.41 555.60M567.41 549.00L560.81 555.60M562.74 559.10L569.34 565.70M569.34 559.10L562.74 565.70M570.45 552.80L577.05 559.40M577.05 552.80L570.45 559.40M572.38 565.50L578.98 572.10M578.98 565.50L572.38 572.10M576.24 563.40L582.84 570.00M582.84 563.40L576.24 570.00M580.09 566.50L586.69 573.10M586.69 566.50L580.09 573.10M585.88 575.60L592.48 582.20M592.48 575.60L585.88 582.20M587.80 574.00L594.40 580.60M594.40 574.00L587.80 580.60M589.73 548.50L596.33 555.10M596.33 548.50L589.73 555.10M591.66 563.40L598.26 570.00M598.26 563.40L591.66 570.00M593.59 563.40L600.19 570.00M600.19 563.40L593.59 570.00M597.44 561.20L604.04 567.80M604.04 561.20L597.44 567.80M601.30 564.40L607.90 571.00M607.90 564.40L601.30 571.00M605.16 572.40L611.76 579.00M611.76 572.40L605.16 579.00M609.01 559.10L615.61 565.70M615.61 559.10L609.01 565.70M612.87 552.80L619.47 559.40M619.47 552.80L612.87 559.40M616.72 561.20L623.32 567.80M623.32 561.20L616.72 567.80M620.58 563.40L627.18 570.00M627.18 563.40L620.58 570.00M624.44 565.50L631.04 572.10M631.04 565.50L624.44 572.10M628.29 575.60L634.89 582.20M634.89 575.60L628.29 582.20M632.15 549.60L638.75 556.20M638.75 549.60L632.15 556.20M634.08 576.10L640.68 582.70M640.68 576.10L634.08 582.70M636.00 566.50L642.60 573.10M642.60 566.50L636.00 573.10M639.86 537.90L646.46 544.50M646.46 537.90L639.86 544.50M643.72 540.00L650.32 546.60M650.32 540.00L643.72 546.60M645.64 566.50L652.24 573.10M652.24 566.50L645.64 573.10M649.50 566.50L656.10 573.10M656.10 566.50L649.50 573.10M651.43 545.90L658.03 552.50M658.03 545.90L651.43 552.50M653.36 559.10L659.96 565.70M659.96 559.10L653.36 565.70M657.21 569.20L663.81 575.80M663.81 569.20L657.21 575.80M661.07 550.60L667.67 557.20M667.67 550.60L661.07 557.20M664.92 570.30L671.52 576.90M671.52 570.30L664.92 576.90M668.78 543.70L675.38 550.30M675.38 543.70L668.78 550.30M670.71 559.10L677.31 565.70M677.31 559.10L670.71 565.70" stroke="#e2a970" stroke-width="0.9" fill="none" opacity="0.85"/>
<polyline points="99.46,624.40 101.39,608.30 103.32,602.40 105.25,558.50 107.18,558.50 109.10,558.50 111.03,558.50 112.96,558.50 114.89,558.50 116.82,558.50 118.74,558.50 120.67,558.50 122.60,558.50 124.53,558.50 126.46,558.50 128.38,558.50 130.31,558.50 132.24,558.50 134.17,558.50 136.10,558.50 138.02,558.50 139.95,558.50 141.88,558.50 143.81,558.50 145.74,558.50 147.66,558.50 149.59,558.50 151.52,558.50 153.45,558.50 155.38,558.50 157.30,558.50 159.23,558.50 161.16,558.50 163.09,558.50 165.02,558.50 166.94,558.50 168.87,558.50 170.80,558.50 172.73,558.50 174.66,558.50 176.58,558.50 178.51,558.50 180.44,558.50 182.37,558.50 184.30,558.50 186.22,558.50 188.15,558.50 190.08,558.50 192.01,558.50 193.94,558.50 195.86,558.50 197.79,558.50 199.72,558.50 201.65,558.50 203.58,558.50 205.50,558.50 207.43,558.50 209.36,558.50 211.29,558.50 213.22,558.50 215.14,558.50 217.07,558.50 219.00,558.50 220.93,558.50 222.86,558.50 224.78,558.50 226.71,558.50 228.64,558.50 230.57,558.50 232.50,558.50 234.42,558.50 236.35,558.50 238.28,558.50 240.21,558.50 242.14,558.50 244.06,558.50 245.99,558.50 247.92,558.50 249.85,558.50 251.78,558.50 253.70,558.50 255.63,558.50 257.56,558.50 259.49,558.50 261.42,558.50 263.34,558.50 265.27,558.50 267.20,529.94 269.13,521.18 271.06,519.83 272.98,518.51 274.91,515.15 276.84,512.58 278.77,511.39 280.70,510.96 282.62,510.53 284.55,510.09 286.48,509.64 288.41,509.17 290.34,508.70 292.26,508.23 294.19,507.77 296.12,507.26 298.05,506.62 299.98,505.97 301.90,505.33 303.83,504.69 305.76,504.05 307.69,503.21 309.62,502.37 311.54,501.52 313.47,500.67 315.40,499.81 317.33,498.88 319.26,497.96 321.18,497.04 323.11,496.20 325.04,495.49 326.97,494.77 328.90,494.06 330.82,493.25 332.75,492.38 334.68,491.50 336.61,490.63 338.54,489.96 340.46,489.33 342.39,488.69 344.32,488.07 346.25,487.60 348.18,487.12 350.10,486.64 352.03,486.22 353.96,485.93 355.89,485.64 357.82,485.35 359.74,485.03 361.67,484.69 363.60,484.34 365.53,483.99 367.46,483.65 369.38,483.30 371.31,483.00 373.24,482.70 375.17,482.39 377.10,482.09 379.02,481.79 380.95,481.48 382.88,481.18 384.81,480.88 386.74,480.57 388.66,480.27 390.59,479.97 392.52,479.66 394.45,479.36 396.38,479.06 398.30,478.75 400.23,478.45 402.16,478.14 404.09,477.84 406.02,477.54 407.94,477.23 409.87,476.96 411.80,476.71 413.73,476.46 415.66,476.19 417.58,475.89 419.51,475.58 421.44,475.27 423.37,474.96 425.30,474.65 427.22,474.34 429.15,474.03 431.08,473.73 433.01,473.42 434.94,473.11 436.86,472.81 438.79,472.50 440.72,472.19 442.65,471.93 444.58,471.67 446.50,471.42 448.43,471.17 450.36,470.92 452.29,470.67 454.22,470.42 456.14,470.10 458.07,469.76 460.00,469.42 461.93,469.09 463.86,468.75 465.78,468.42 467.71,468.08 469.64,467.70 471.57,467.31 473.50,466.93 475.42,466.55 477.35,466.16 479.28,465.78 481.21,465.43 483.14,465.18 485.06,464.93 486.99,464.68 488.92,464.43 490.85,464.18 492.78,463.93 494.70,463.44 496.63,462.66 498.56,461.88 500.49,461.22 502.42,460.91 504.34,460.60 506.27,460.29 508.20,459.99 510.13,459.68 512.06,459.37 513.98,459.08 515.91,458.82 517.84,458.55 519.77,458.29 521.70,458.03 523.62,457.76 525.55,457.50 527.48,457.11 529.41,456.64 531.34,456.17 533.26,455.70 535.19,455.23 537.12,454.76 539.05,454.29 540.98,453.78 542.90,453.27 544.83,452.76 546.76,452.25 548.69,451.74 550.62,451.23 552.54,450.71 554.47,449.91 556.40,449.09 558.33,448.27 560.26,447.45 562.18,446.69 564.11,446.14 566.04,445.59 567.97,445.04 569.90,444.49 571.82,443.94 573.75,443.31 575.68,442.66 577.61,442.00 579.54,441.35 581.46,440.70 583.39,440.04 585.32,439.44 587.25,439.07 589.18,438.69 591.10,438.32 593.03,437.95 594.96,437.40 596.89,436.74 598.82,436.07 600.74,435.41 602.67,434.76 604.60,434.32 606.53,433.88 608.46,433.45 610.38,433.01 612.31,432.26 614.24,431.25 616.17,430.23 618.10,429.21 620.02,428.19 621.95,427.76 623.88,427.32 625.81,426.88 627.74,426.44 629.66,425.86 631.59,425.10 633.52,424.34 635.45,423.47 637.38,422.31 639.30,421.14 641.23,419.70 643.16,418.01 645.09,416.30 647.02,414.19 648.94,412.09 650.87,409.98 652.80,408.38 654.73,406.90 656.66,399.67 658.58,396.93 660.51,395.50 662.44,394.29 664.37,393.09 666.30,388.64 668.22,385.50 670.15,382.71 672.08,381.59 674.01,380.60 675.94,379.82" fill="none" stroke="#5b9bd5" stroke-width="2"/>
<path d="M96.46 621.60h6v5.6h-6zM98.39 605.50h6v5.6h-6zM100.32 599.60h6v5.6h-6zM102.25 555.70h6v5.6h-6zM104.18 555.70h6v5.6h-6zM106.10 555.70h6v5.6h-6zM108.03 555.70h6v5.6h-6zM109.96 555.70h6v5.6h-6zM111.89 555.70h6v5.6h-6zM113.82 555.70h6v5.6h-6zM115.74 555.70h6v5.6h-6zM117.67 555.70h6v5.6h-6zM119.60 555.70h6v5.6h-6zM121.53 555.70h6v5.6h-6zM123.46 555.70h6v5.6h-6zM125.38 555.70h6v5.6h-6zM127.31 555.70h6v5.6h-6zM129.24 555.70h6v5.6h-6zM131.17 555.70h6v5.6h-6zM133.10 555.70h6v5.6h-6zM135.02 555.70h6v5.6h-6zM136.95 555.70h6v5.6h-6zM138.88 555.70h6v5.6h-6zM140.81 555.70h6v5.6h-6zM142.74 555.70h6v5.6h-6zM144.66 555.70h6v5.6h-6zM146.59 555.70h6v5.6h-6zM148.52 555.70h6v5.6h-6zM150.45 555.70h6v5.6h-6zM152.38 555.70h6v5.6h-6zM154.30 555.70h6v5.6h-6zM156.23 555.70h6v5.6h-6zM158.16 555.70h6v5.6h-6zM160.09 555.70h6v5.6h-6zM162.02 555.70h6v5.6h-6zM163.94 555.70h6v5.6h-6zM165.87 555.70h6v5.6h-6zM167.80 555.70h6v5.6h-6zM169.73 555.70h6v5.6h-6zM171.66 555.70h6v5.6h-6zM173.58 555.70h6v5.6h-6zM175.51 555.70h6v5.6h-6zM177.44 555.70h6v5.6h-6zM179.37 555.70h6v5.6h-6zM181.30 555.70h6v5.6h-6zM183.22 555.70h6v5.6h-6zM185.15 555.70h6v5.6h-6zM187.08 555.70h6v5.6h-6zM189.01 555.70h6v5.6h-6zM190.94 555.70h6v5.6h-6zM192.86 555.70h6v5.6h-6zM194.79 555.70h6v5.6h-6zM196.72 555.70h6v5.6h-6zM198.65 555.70h6v5.6h-6zM200.58 555.70h6v5.6h-6zM202.50 555.70h6v5.6h-6zM204.43 555.70h6v5.6h-6zM206.36 555.70h6v5.6h-6zM208.29 555.70h6v5.6h-6zM210.22 555.70h6v5.6h-6zM212.14 555.70h6v5.6h-6zM214.07 555.70h6v5.6h-6zM216.00 555.70h6v5.6h-6zM217.93 555.70h6v5.6h-6zM219.86 555.70h6v5.6h-6zM221.78 555.70h6v5.6h-6zM223.71 555.70h6v5.6h-6zM225.64 555.70h6v5.6h-6zM227.57 555.70h6v5.6h-6zM229.50 555.70h6v5.6h-6zM231.42 555.70h6v5.6h-6zM233.35 555.70h6v5.6h-6zM235.28 555.70h6v5.6h-6zM237.21 555.70h6v5.6h-6zM239.14 555.70h6v5.6h-6zM241.06 555.70h6v5.6h-6zM242.99 555.70h6v5.6h-6zM244.92 555.70h6v5.6h-6zM246.85 555.70h6v5.6h-6zM248.78 555.70h6v5.6h-6zM250.70 555.70h6v5.6h-6zM252.63 555.70h6v5.6h-6zM254.56 555.70h6v5.6h-6zM256.49 555.70h6v5.6h-6zM258.42 555.70h6v5.6h-6zM260.34 555.70h6v5.6h-6zM262.27 555.70h6v5.6h-6zM264.20 527.14h6v5.6h-6zM266.13 518.38h6v5.6h-6zM268.06 517.03h6v5.6h-6zM269.98 515.71h6v5.6h-6zM271.91 512.35h6v5.6h-6zM273.84 509.78h6v5.6h-6zM275.77 508.59h6v5.6h-6zM277.70 508.16h6v5.6h-6zM279.62 507.73h6v5.6h-6zM281.55 507.29h6v5.6h-6zM283.48 506.84h6v5.6h-6zM285.41 506.37h6v5.6h-6zM287.34 505.90h6v5.6h-6zM289.26 505.43h6v5.6h-6zM291.19 504.97h6v5.6h-6zM293.12 504.46h6v5.6h-6zM295.05 503.82h6v5.6h-6zM296.98 503.17h6v5.6h-6zM298.90 502.53h6v5.6h-6zM300.83 501.89h6v5.6h-6zM302.76 501.25h6v5.6h-6zM304.69 500.41h6v5.6h-6zM306.62 499.57h6v5.6h-6zM308.54 498.72h6v5.6h-6zM310.47 497.87h6v5.6h-6zM312.40 497.01h6v5.6h-6zM314.33 496.08h6v5.6h-6zM316.26 495.16h6v5.6h-6zM318.18 494.24h6v5.6h-6zM320.11 493.40h6v5.6h-6zM322.04 492.69h6v5.6h-6zM323.97 491.97h6v5.6h-6zM325.90 491.26h6v5.6h-6zM327.82 490.45h6v5.6h-6zM329.75 489.58h6v5.6h-6zM331.68 488.70h6v5.6h-6zM333.61 487.83h6v5.6h-6zM335.54 487.16h6v5.6h-6zM337.46 486.53h6v5.6h-6zM339.39 485.89h6v5.6h-6zM341.32 485.27h6v5.6h-6zM343.25 484.80h6v5.6h-6zM345.18 484.32h6v5.6h-6zM347.10 483.84h6v5.6h-6zM349.03 483.42h6v5.6h-6zM350.96 483.13h6v5.6h-6zM352.89 482.84h6v5.6h-6zM354.82 482.55h6v5.6h-6zM356.74 482.23h6v5.6h-6zM358.67 481.89h6v5.6h-6zM360.60 481.54h6v5.6h-6zM362.53 481.19h6v5.6h-6zM364.46 480.85h6v5.6h-6zM366.38 480.50h6v5.6h-6zM368.31 480.20h6v5.6h-6zM370.24 479.90h6v5.6h-6zM372.17 479.59h6v5.6h-6zM374.10 479.29h6v5.6h-6zM376.02 478.99h6v5.6h-6zM377.95 478.68h6v5.6h-6zM379.88 478.38h6v5.6h-6zM381.81 478.08h6v5.6h-6zM383.74 477.77h6v5.6h-6zM385.66 477.47h6v5.6h-6zM387.59 477.17h6v5.6h-6zM389.52 476.86h6v5.6h-6zM391.45 476.56h6v5.6h-6zM393.38 476.26h6v5.6h-6zM395.30 475.95h6v5.6h-6zM397.23 475.65h6v5.6h-6zM399.16 475.34h6v5.6h-6zM401.09 475.04h6v5.6h-6zM403.02 474.74h6v5.6h-6zM404.94 474.43h6v5.6h-6zM406.87 474.16h6v5.6h-6zM408.80 473.91h6v5.6h-6zM410.73 473.66h6v5.6h-6zM412.66 473.39h6v5.6h-6zM414.58 473.09h6v5.6h-6zM416.51 472.78h6v5.6h-6zM418.44 472.47h6v5.6h-6zM420.37 472.16h6v5.6h-6zM422.30 471.85h6v5.6h-6zM424.22 471.54h6v5.6h-6zM426.15 471.23h6v5.6h-6zM428.08 470.93h6v5.6h-6zM430.01 470.62h6v5.6h-6zM431.94 470.31h6v5.6h-6zM433.86 470.01h6v5.6h-6zM435.79 469.70h6v5.6h-6zM437.72 469.39h6v5.6h-6zM439.65 469.13h6v5.6h-6zM441.58 468.87h6v5.6h-6zM443.50 468.62h6v5.6h-6zM445.43 468.37h6v5.6h-6zM447.36 468.12h6v5.6h-6zM449.29 467.87h6v5.6h-6zM451.22 467.62h6v5.6h-6zM453.14 467.30h6v5.6h-6zM455.07 466.96h6v5.6h-6zM457.00 466.62h6v5.6h-6zM458.93 466.29h6v5.6h-6zM460.86 465.95h6v5.6h-6zM462.78 465.62h6v5.6h-6zM464.71 465.28h6v5.6h-6zM466.64 464.90h6v5.6h-6zM468.57 464.51h6v5.6h-6zM470.50 464.13h6v5.6h-6zM472.42 463.75h6v5.6h-6zM474.35 463.36h6v5.6h-6zM476.28 462.98h6v5.6h-6zM478.21 462.63h6v5.6h-6zM480.14 462.38h6v5.6h-6zM482.06 462.13h6v5.6h-6zM483.99 461.88h6v5.6h-6zM485.92 461.63h6v5.6h-6zM487.85 461.38h6v5.6h-6zM489.78 461.13h6v5.6h-6zM491.70 460.64h6v5.6h-6zM493.63 459.86h6v5.6h-6zM495.56 459.08h6v5.6h-6zM497.49 458.42h6v5.6h-6zM499.42 458.11h6v5.6h-6zM501.34 457.80h6v5.6h-6zM503.27 457.49h6v5.6h-6zM505.20 457.19h6v5.6h-6zM507.13 456.88h6v5.6h-6zM509.06 456.57h6v5.6h-6zM510.98 456.28h6v5.6h-6zM512.91 456.02h6v5.6h-6zM514.84 455.75h6v5.6h-6zM516.77 455.49h6v5.6h-6zM518.70 455.23h6v5.6h-6zM520.62 454.96h6v5.6h-6zM522.55 454.70h6v5.6h-6zM524.48 454.31h6v5.6h-6zM526.41 453.84h6v5.6h-6zM528.34 453.37h6v5.6h-6zM530.26 452.90h6v5.6h-6zM532.19 452.43h6v5.6h-6zM534.12 451.96h6v5.6h-6zM536.05 451.49h6v5.6h-6zM537.98 450.98h6v5.6h-6zM539.90 450.47h6v5.6h-6zM541.83 449.96h6v5.6h-6zM543.76 449.45h6v5.6h-6zM545.69 448.94h6v5.6h-6zM547.62 448.43h6v5.6h-6zM549.54 447.91h6v5.6h-6zM551.47 447.11h6v5.6h-6zM553.40 446.29h6v5.6h-6zM555.33 445.47h6v5.6h-6zM557.26 444.65h6v5.6h-6zM559.18 443.89h6v5.6h-6zM561.11 443.34h6v5.6h-6zM563.04 442.79h6v5.6h-6zM564.97 442.24h6v5.6h-6zM566.90 441.69h6v5.6h-6zM568.82 441.14h6v5.6h-6zM570.75 440.51h6v5.6h-6zM572.68 439.86h6v5.6h-6zM574.61 439.20h6v5.6h-6zM576.54 438.55h6v5.6h-6zM578.46 437.90h6v5.6h-6zM580.39 437.24h6v5.6h-6zM582.32 436.64h6v5.6h-6zM584.25 436.27h6v5.6h-6zM586.18 435.89h6v5.6h-6zM588.10 435.52h6v5.6h-6zM590.03 435.15h6v5.6h-6zM591.96 434.60h6v5.6h-6zM593.89 433.94h6v5.6h-6zM595.82 433.27h6v5.6h-6zM597.74 432.61h6v5.6h-6zM599.67 431.96h6v5.6h-6zM601.60 431.52h6v5.6h-6zM603.53 431.08h6v5.6h-6zM605.46 430.65h6v5.6h-6zM607.38 430.21h6v5.6h-6zM609.31 429.46h6v5.6h-6zM611.24 428.45h6v5.6h-6zM613.17 427.43h6v5.6h-6zM615.10 426.41h6v5.6h-6zM617.02 425.39h6v5.6h-6zM618.95 424.96h6v5.6h-6zM620.88 424.52h6v5.6h-6zM622.81 424.08h6v5.6h-6zM624.74 423.64h6v5.6h-6zM626.66 423.06h6v5.6h-6zM628.59 422.30h6v5.6h-6zM630.52 421.54h6v5.6h-6zM632.45 420.67h6v5.6h-6zM634.38 419.51h6v5.6h-6zM636.30 418.34h6v5.6h-6zM638.23 416.90h6v5.6h-6zM640.16 415.21h6v5.6h-6zM642.09 413.50h6v5.6h-6zM644.02 411.39h6v5.6h-6zM645.94 409.29h6v5.6h-6zM647.87 407.18h6v5.6h-6zM649.80 405.58h6v5.6h-6zM651.73 404.10h6v5.6h-6zM653.66 396.87h6v5.6h-6zM655.58 394.13h6v5.6h-6zM657.51 392.70h6v5.6h-6zM659.44 391.49h6v5.6h-6zM661.37 390.29h6v5.6h-6zM663.30 385.84h6v5.6h-6zM665.22 382.70h6v5.6h-6zM667.15 379.91h6v5.6h-6zM669.08 378.79h6v5.6h-6zM671.01 377.80h6v5.6h-6zM672.94 377.02h6v5.6h-6z" fill="#5b9bd5"/>
<path d="M96.16 568.90L102.76 575.50M102.76 568.90L96.16 575.50M98.09 560.90L104.69 567.50M104.69 560.90L98.09 567.50M100.02 555.06L106.62 561.66M106.62 555.06L100.02 561.66M101.95 556.16L108.55 562.76M108.55 556.16L101.95 562.76M103.88 553.24L110.48 559.84M110.48 553.24L103.88 559.84M105.80 556.70L112.40 563.30M112.40 556.70L105.80 563.30M107.73 581.60L114.33 588.20M114.33 581.60L107.73 588.20M109.66 548.70L116.26 555.30M116.26 548.70L109.66 555.30M111.59 554.78L118.19 561.38M118.19 554.78L111.59 561.38M113.52 542.90L120.12 549.50M120.12 542.90L113.52 549.50M115.44 583.20L122.04 589.80M122.04 583.20L115.44 589.80M117.37 557.45L123.97 564.05M123.97 557.45L117.37 564.05M119.30 557.47L125.90 564.07M125.90 557.47L119.30 564.07M121.23 549.80L127.83 556.40M127.83 549.80L121.23 556.40M123.16 552.08L129.76 558.68M129.76 552.08L123.16 558.68M125.08 570.50L131.68 577.10M131.68 570.50L125.08 577.10M127.01 573.70L133.61 580.30M133.61 573.70L127.01 580.30M128.94 552.65L135.54 559.25M135.54 552.65L128.94 559.25M130.87 559.30L137.47 565.90M137.47 559.30L130.87 565.90M132.80 550.30L139.40 556.90M139.40 550.30L132.80 556.90M134.72 551.56L141.32 558.16M141.32 551.56L134.72 558.16M136.65 554.29L143.25 560.89M143.25 554.29L136.65 560.89M138.58 563.60L145.18 570.20M145.18 563.60L138.58 570.20M140.51 551.41L147.11 558.01M147.11 551.41L140.51 558.01M142.44 554.40L149.04 561.00M149.04 554.40L142.44 561.00M144.36 564.10L150.96 570.70M150.96 564.10L144.36 570.70M146.29 548.20L152.89 554.80M152.89 548.20L146.29 554.80M148.22 567.30L154.82 573.90M154.82 567.30L148.22 573.90M150.15 567.30L156.75 573.90M156.75 567.30L150.15 573.90M152.08 541.80L158.68 548.40M158.68 541.80L152.08 548.40M154.00 542.90L160.60 549.50M160.60 542.90L154.00 549.50M155.93 555.74L162.53 562.34M162.53 555.74L155.93 562.34M157.86 566.80L164.46 573.40M164.46 566.80L157.86 573.40M159.79 541.30L166.39 547.90M166.39 541.30L159.79 547.90M161.72 553.15L168.32 559.75M168.32 553.15L161.72 559.75M163.64 555.93L170.24 562.53M170.24 555.93L163.64 562.53M165.57 560.40L172.17 567.00M172.17 560.40L165.57 567.00M167.50 563.60L174.10 570.20M174.10 563.60L167.50 570.20M169.43 569.90L176.03 576.50M176.03 569.90L169.43 576.50M171.36 555.34L177.96 561.94M177.96 555.34L171.36 561.94M173.28 551.37L179.88 557.97M179.88 551.37L173.28 557.97M175.21 548.70L181.81 555.30M181.81 548.70L175.21 555.30M177.14 555.11L183.74 561.71M183.74 555.11L177.14 561.71M179.07 553.01L185.67 559.61M185.67 553.01L179.07 559.61M181.00 535.00L187.60 541.60M187.60 535.00L181.00 541.60M182.92 539.70L189.52 546.30M189.52 539.70L182.92 546.30M184.85 554.11L191.45 560.71M191.45 554.11L184.85 560.71M186.78 553.18L193.38 559.78M193.38 553.18L186.78 559.78M188.71 559.30L195.31 565.90M195.31 559.30L188.71 565.90M190.64 556.05L197.24 562.65M197.24 556.05L190.64 562.65M192.56 561.50L199.16 568.10M199.16 561.50L192.56 568.10M194.49 554.28L201.09 560.88M201.09 554.28L194.49 560.88M196.42 536.50L203.02 543.10M203.02 536.50L196.42 543.10M198.35 574.20L204.95 580.80M204.95 574.20L198.35 580.80M200.28 534.40L206.88 541.00M206.88 534.40L200.28 541.00M202.20 548.70L208.80 555.30M208.80 548.70L202.20 555.30M204.13 534.40L210.73 541.00M210.73 534.40L204.13 541.00M206.06 568.90L212.66 575.50M212.66 568.90L206.06 575.50M207.99 568.40L214.59 575.00M214.59 568.40L207.99 575.00M209.92 552.30L216.52 558.90M216.52 552.30L209.92 558.90M211.84 555.01L218.44 561.61M218.44 555.01L211.84 561.61M213.77 549.30L220.37 555.90M220.37 549.30L213.77 555.90M215.70 562.50L222.30 569.10M222.30 562.50L215.70 569.10M217.63 542.40L224.23 549.00M224.23 542.40L217.63 549.00M219.56 556.66L226.16 563.26M226.16 556.66L219.56 563.26M221.48 553.34L228.08 559.94M228.08 553.34L221.48 559.94M223.41 552.75L230.01 559.35M230.01 552.75L223.41 559.35M225.34 548.20L231.94 554.80M231.94 548.20L225.34 554.80M227.27 553.92L233.87 560.52M233.87 553.92L227.27 560.52M229.20 557.75L235.80 564.35M235.80 557.75L229.20 564.35M231.12 566.80L237.72 573.40M237.72 566.80L231.12 573.40M233.05 545.60L239.65 552.20M239.65 545.60L233.05 552.20M234.98 558.03L241.58 564.63M241.58 558.03L234.98 564.63M236.91 568.40L243.51 575.00M243.51 568.40L236.91 575.00M238.84 555.91L245.44 562.51M245.44 555.91L238.84 562.51M240.76 557.52L247.36 564.12M247.36 557.52L240.76 564.12M242.69 560.90L249.29 567.50M249.29 560.90L242.69 567.50M244.62 557.12L251.22 563.72M251.22 557.12L244.62 563.72M246.55 563.10L253.15 569.70M253.15 563.10L246.55 569.70M248.48 553.85L255.08 560.45M255.08 553.85L248.48 560.45M250.40 551.85L257.00 558.45M257.00 551.85L250.40 558.45M252.33 548.20L258.93 554.80M258.93 548.20L252.33 554.80M254.26 555.77L260.86 562.37M260.86 555.77L254.26 562.37M256.19 546.60L262.79 553.20M262.79 546.60L256.19 553.20M258.12 561.50L264.72 568.10M264.72 561.50L258.12 568.10M260.04 546.10L266.64 552.70M266.64 546.10L260.04 552.70M261.97 555.10L268.57 561.70M268.57 555.10L261.97 561.70" stroke="#e2a970" stroke-width="0.9" fill="none" opacity="0.35"/>
<line x1="252.30" y1="421.00" x2="269.80" y2="421.00" stroke="#5b9bd5" stroke-width="2"/>
<rect x="258.2" y="418.4" width="6.4" height="5.4" fill="#5b9bd5"/>
<text x="272.20" y="425.30" text-anchor="start" font-size="12.8" fill="#595959" stroke="#595959" stroke-width="0" textLength="70.5" lengthAdjust="spacingAndGlyphs">Richest AA</text>
<path d="M374.6 418.3L381.2 424.7M381.2 418.3L374.6 424.7" stroke="#f2cfae" stroke-width="1"/>
<text x="388.40" y="425.70" text-anchor="start" font-size="13" fill="#595959" stroke="#595959" stroke-width="0" textLength="119.5" lengthAdjust="spacingAndGlyphs">Other AAs (mean)</text>
<text x="326.8" y="446.7" font-size="14.8" fill="#111" stroke="#111" stroke-width="0.2" font-style="italic" textLength="8.7" lengthAdjust="spacingAndGlyphs">P</text>
<text x="338.6" y="446.6" font-size="15" fill="#111" stroke="#111" stroke-width="0.1" font-family="Liberation Serif" style="font-family:&quot;Liberation Serif&quot;,serif" textLength="64.3" lengthAdjust="spacingAndGlyphs">&lt; 2.2e-16</text>
<text x="331.80" y="623.40" text-anchor="start" font-size="14.5" fill="#111" stroke="#111" stroke-width="0.15" textLength="71.0" lengthAdjust="spacingAndGlyphs">Organisms</text>
</svg></body></html>
